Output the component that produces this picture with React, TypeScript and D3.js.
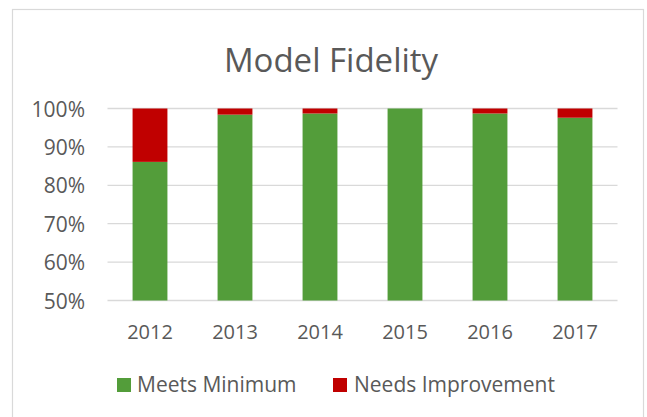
import { useMemo } from 'react';
import * as d3 from 'd3';

const years = ['2012', '2013', '2014', '2015', '2016', '2017'];
const meetsMinimum = [0.861, 0.984, 0.987, 1.0, 0.987, 0.976];
const needsImprovement = [0.139, 0.016, 0.013, 0.0, 0.013, 0.024];
const yTicks = [0.5, 0.6, 0.7, 0.8, 0.9, 1.0];
const seriesNames = ['Meets Minimum', 'Needs Improvement'];
const seriesColors = ['#539D3A', '#C00000'];

export default function App() {
	const width = 647;
	const height = 417;
	const font = '"Open Sans", "Noto Sans", sans-serif';
	const textColor = '#595959';

	const x = d3.scaleBand().domain(years).range([107.5, 617.5]).paddingInner(0.59).paddingOuter(0.295);
	const y = d3.scaleLinear().domain([0.5, 1]).range([300.5, 108.5]);

	const stacked = useMemo(() => {
		const rows = years.map((yr, i) => ({
			year: yr,
			meets: meetsMinimum[i],
			needs: needsImprovement[i],
		}));
		return d3.stack<any>().keys(['meets', 'needs'])(rows);
	}, []);

	return (
		<svg
			width={width}
			height={height}
			style={{ position: 'absolute', left: 0, top: 0 }}
			fontFamily={font}
		>
			<rect x={0} y={0} width={width} height={height} fill='#fff' />
			{/* chart border */}
			<rect x={12.5} y={9.5} width={631} height={420} fill='none' stroke='#D9D9D9' strokeWidth={1.2} />

			{/* title */}
			<text x={331} y={72} textAnchor='middle' fontSize={33} fill={textColor}>
				Model Fidelity
			</text>

			{/* gridlines + y labels */}
			{yTicks.map((t) => (
				<g key={t}>
					<line x1={107.5} x2={617.5} y1={y(t)} y2={y(t)} stroke='#D9D9D9' strokeWidth={1.3} />
					<text x={85} y={y(t) + 8} textAnchor='end' fontSize={21} fill={textColor}>
						{d3.format('.0%')(t)}
					</text>
				</g>
			))}

			{/* stacked bars */}
			{stacked.map((layer, li) => (
				<g key={layer.key} fill={seriesColors[li]}>
					{layer.map((d, i) => {
						const lo = Math.max(d[0], 0.5);
						const hi = d[1];
						if (hi <= lo) return null;
						return (
							<rect
								key={years[i]}
								x={x(years[i])}
								width={x.bandwidth()}
								y={y(hi)}
								height={y(lo) - y(hi)}
							/>
						);
					})}
				</g>
			))}

			{/* x labels */}
			{years.map((yr) => (
				<text
					key={yr}
					x={(x(yr) ?? 0) + x.bandwidth() / 2}
					y={339}
					textAnchor='middle'
					fontSize={20}
					fill={textColor}
				>
					{yr}
				</text>
			))}

			{/* legend */}
			<rect x={117} y={378} width={14} height={14} fill={seriesColors[0]} />
			<text x={137} y={392} fontSize={21} fill={textColor}>
				{seriesNames[0]}
			</text>
			<rect x={333} y={378} width={14} height={14} fill={seriesColors[1]} />
			<text x={354} y={392} fontSize={21} fill={textColor}>
				{seriesNames[1]}
			</text>
		</svg>
	);
}
